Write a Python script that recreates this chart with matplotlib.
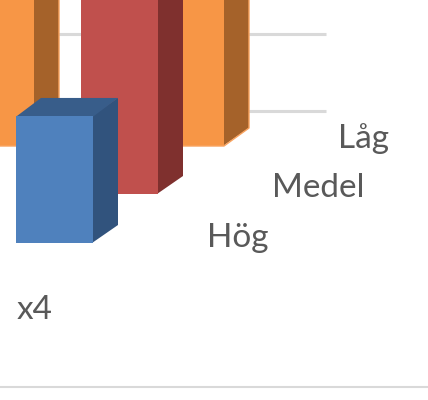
import matplotlib
matplotlib.use("Agg")
import matplotlib.pyplot as plt

# Data (the two clipped bars are estimates)
series = ["Hög", "Medel", "Låg"]
category = "x4"
hog_x4 = 1.65
medel_x4 = 3.0
lag_x3 = 2.6
lag_x4 = 2.6
grid_values = [1, 2]

# Layout (pixels)
W, H = 428, 400
PX_PER_UNIT = 77.0
BAR_W = 77
DX, DY = 25, 18

def base(py):
    return (H - py) / PX_PER_UNIT

fig = plt.figure(figsize=(W / 100, H / 100), dpi=100, facecolor="white")
ax = fig.add_axes([0, 0, 1, 1])
ax.set_xlim(0, W)
ax.set_ylim(0, H / PX_PER_UNIT)
ax.axis("off")

# Value axis: gridlines on the back wall
grid_base = base(188)
for g in grid_values:
    ax.plot([58, 326], [grid_base + g] * 2, color="#D9D9D9", lw=2.2,
            solid_capstyle="butt", zorder=1)

# Baseline of the chart frame
ax.plot([0, W], [base(387)] * 2, color="#D9D9D9", lw=1.5, zorder=1)

def bar3d(x, b, v, front, side, top, z, edge=None):
    dy = DY / PX_PER_UNIT
    ax.fill([x + BAR_W - 1, x + BAR_W + DX, x + BAR_W + DX, x + BAR_W - 1],
            [b, b + dy, b + v + dy, b + v], color=side, lw=0, zorder=z)
    ax.fill([x, x + DX, x + BAR_W + DX, x + BAR_W],
            [b + v - 0.01, b + v + dy, b + v + dy, b + v - 0.01], color=top, lw=0, zorder=z)
    ax.bar(x, v, BAR_W, bottom=b, align="edge", color=front, lw=0, zorder=z + 0.1)
    if edge:
        ax.plot([x, x + BAR_W, x + BAR_W + DX, x + BAR_W + DX],
                [b, b, b + dy, b + v + dy], color=edge, lw=1.0, zorder=z + 0.2)

ORANGE = ("#F79646", "#A5622A", "#B66D31")
RED = ("#C0504D", "#7F302E", "#943D3A")
BLUE = ("#4F81BD", "#31537D", "#385D8A")

bar3d(-43, base(146), lag_x3, *ORANGE, 2, edge="#F9A35F")
bar3d(147, base(146), lag_x4, *ORANGE, 2, edge="#F9A35F")
bar3d(81, base(194), medel_x4, *RED, 3)
bar3d(16, base(243), hog_x4, *BLUE, 4)

# Series and category labels
font = dict(family="Lato", color="#595959", fontsize=24, va="center", ha="left")
ax.text(338, base(139), series[2], **font)
ax.text(272, base(188), series[1], **font)
ax.text(207, base(238), series[0], **font)
ax.text(17, base(310), category, **font)

fig.savefig("out.png", dpi=100, facecolor="white")
